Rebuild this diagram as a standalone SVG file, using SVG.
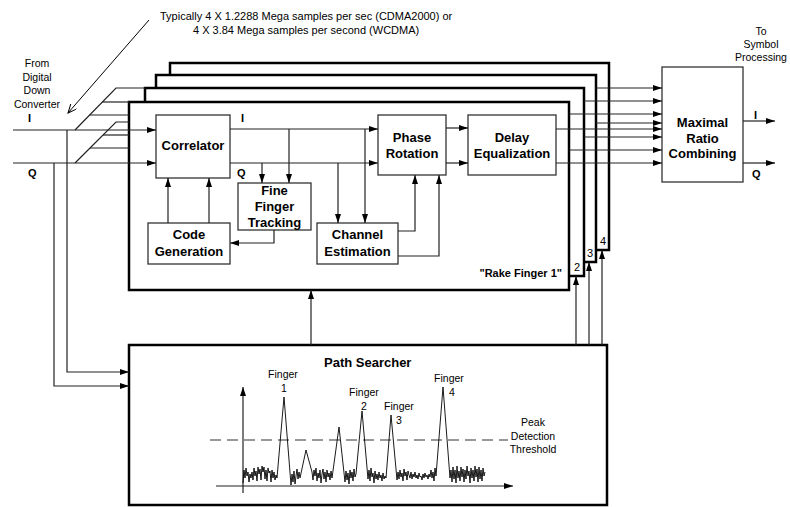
<svg xmlns="http://www.w3.org/2000/svg" width="790" height="507" viewBox="0 0 790 507">
<defs>
<marker id="ah" markerUnits="userSpaceOnUse" markerWidth="9" markerHeight="6" refX="9" refY="3" orient="auto">
<path d="M0,0 L9,3 L0,6 z" fill="#000"/>
</marker>
<marker id="vh" markerUnits="userSpaceOnUse" markerWidth="10" markerHeight="8" refX="9" refY="4" orient="auto">
<path d="M0,0 L9,4 L0,8" fill="none" stroke="#000" stroke-width="1"/>
</marker>
</defs>
<style>
.ln{stroke:#222;stroke-width:1.2;fill:none}
.la{stroke:#222;stroke-width:1.2;fill:none;marker-end:url(#ah)}
.blk{fill:#fff;stroke:#333;stroke-width:1.3}
.fing{fill:#fff;stroke:#000;stroke-width:2.5}
.t{font-family:"Liberation Sans",Arial,sans-serif;fill:#000}
.b13{font-size:13px;font-weight:bold;text-anchor:middle}
.b11{font-size:11px;font-weight:bold}
.r11s{font-size:11px}
.r105{font-size:10.5px;text-anchor:middle}
.r11{font-size:11px;text-anchor:middle}
</style>
<rect width="790" height="507" fill="#fff"/>

<g id="finger4"><rect class="fing" x="170" y="63" width="439" height="187"/><text class="t r11" x="603" y="245">4</text></g>
<g id="finger3"><rect class="fing" x="156" y="75" width="440" height="187"/><text class="t r11" x="590" y="257">3</text></g>
<g id="finger2"><rect class="fing" x="145" y="88" width="439" height="188"/><text class="t r11" x="577" y="271">2</text></g>
<g id="finger1"><rect class="fing" x="129" y="102" width="440" height="188"/><text class="t b11" x="562" y="277" text-anchor="end">"Rake Finger 1"</text></g>

<g id="correlator"><rect class="blk" x="156" y="115" width="74" height="63"/><text class="t b13" x="193" y="149.5">Correlator</text></g>
<g id="code-generation"><rect class="blk" x="148" y="223" width="82" height="41"/><text class="t b13" x="189" y="238.5">Code</text><text class="t b13" x="189" y="255.5">Generation</text></g>
<g id="fine-finger-tracking"><rect class="blk" x="238" y="183" width="73" height="47"/><text class="t b13" x="274.5" y="194.5">Fine</text><text class="t b13" x="274.5" y="211">Finger</text><text class="t b13" x="274.5" y="226.5">Tracking</text></g>
<g id="channel-estimation"><rect class="blk" x="317" y="223" width="81" height="41"/><text class="t b13" x="357.5" y="238.5">Channel</text><text class="t b13" x="357.5" y="255.5">Estimation</text></g>
<g id="phase-rotation"><rect class="blk" x="378" y="115" width="68" height="60"/><text class="t b13" x="412" y="141.5">Phase</text><text class="t b13" x="412" y="157.5">Rotation</text></g>
<g id="delay-equalization"><rect class="blk" x="468" y="115" width="88" height="60"/><text class="t b13" x="512" y="141.5">Delay</text><text class="t b13" x="512" y="157.5">Equalization</text></g>
<g id="mrc"><rect class="blk" x="662" y="67" width="81" height="115"/><text class="t b13" x="702.5" y="126.5">Maximal</text><text class="t b13" x="702.5" y="142.5">Ratio</text><text class="t b13" x="702.5" y="157.5">Combining</text></g>

<g id="path-searcher">
<rect class="fing" x="129" y="345" width="478" height="160"/>
<text class="t" x="324" y="367" font-size="13" font-weight="bold">Path Searcher</text>
<line x1="210" y1="440" x2="508" y2="440" stroke="#333" stroke-width="1.2" stroke-dasharray="11,6"/>
<path class="la" d="M243,493 V387"/>
<path class="la" d="M216,486 H513"/>
<polyline fill="none" stroke="#000" stroke-width="0.9" points="243,483 244,470 245,478 246,468 247,476 248,472 249,482 250,474 251,478 252,472 253,480 254,468 255,476 256,471 257,481 258,467 259,474 260,469 261,480 262,466 263,472 264,467 265,479 266,470 267,481 268,468 269,473 270,471 271,482 272,470 273,478 274,472 275,480 276,475 277,478 284,397 291,485 292,474 293,482 294,471 295,484 296,476 297,469 298,479 299,472 300,478 306,450 312,472 313,480 314,470 315,476 316,468 317,481 318,473 319,478 320,470 321,483 322,474 323,469 324,479 325,472 326,482 327,470 328,477 329,473 330,480 331,471 332,478 339,427 345,482 346,471 347,480 348,473 349,484 350,470 351,478 352,472 353,481 354,469 355,477 356,474 362,411 368,479 369,470 370,481 371,468 372,477 373,473 374,483 375,471 376,479 377,474 378,480 379,472 380,478 381,475 382,481 383,473 384,479 385,476 386,478 391,415 397,480 398,472 399,479 400,470 401,477 402,473 403,481 404,469 405,476 406,472 407,480 408,471 409,475 410,478 411,472 412,479 413,474 414,477 415,472 416,478 417,475 418,479 419,473 420,477 421,476 422,480 423,474 424,478 425,473 426,477 427,475 428,479 429,474 430,477 431,470 432,478 433,472 434,481 435,468 436,476 443,387 450,478 451,470 452,482 453,467 454,479 455,470 456,483 457,466 458,478 459,471 460,481 461,467 462,477 463,469 464,482 465,470 466,479 467,466 468,476 469,471 470,483 471,468 472,478 473,470 474,481 475,466 476,477 477,469 478,482 479,467 480,479 481,470 482,481 483,468 484,476 485,472"/>
<text class="t r105" x="283" y="378">Finger</text><text class="t r105" x="284" y="392">1</text>
<text class="t r105" x="364" y="396">Finger</text><text class="t r105" x="364" y="410">2</text>
<text class="t r105" x="399" y="410">Finger</text><text class="t r105" x="399" y="424">3</text>
<text class="t r105" x="449" y="382">Finger</text><text class="t r105" x="452" y="396">4</text>
<text class="t r105" x="533" y="426">Peak</text><text class="t r105" x="533" y="440">Detection</text><text class="t r105" x="533" y="453">Threshold</text>
</g>

<g id="connectors">
<path class="la" d="M13,130 H156"/>
<path class="la" d="M13,163 H156"/>
<path class="ln" d="M75,130 L116,88 H145"/>
<path class="ln" d="M102,102 H129"/>
<path class="ln" d="M89.5,115 H129"/>
<path class="ln" d="M75,163 L116,122 H129"/>
<path class="ln" d="M103,135 H129"/>
<path class="ln" d="M90,148 H129"/>
<path class="la" d="M67,130 V372 H129"/>
<path class="la" d="M54,163 V386 H129"/>
<path d="M149,20 L68,113" stroke="#000" stroke-width="1" fill="none" marker-end="url(#vh)"/>
<path class="la" d="M230,129 H378"/>
<path class="la" d="M230,163 H378"/>
<path class="la" d="M289,129 V183"/>
<path class="la" d="M262,163 V183"/>
<path class="la" d="M365,129 V223"/>
<path class="la" d="M338,163 V223"/>
<path class="la" d="M168,223 V178"/>
<path class="la" d="M209,223 V178"/>
<path class="la" d="M274,230 V243 H230"/>
<path class="la" d="M398,231 H415 V175"/>
<path class="la" d="M398,256 H439 V175"/>
<path class="la" d="M446,128 H468"/>
<path class="la" d="M446,163 H468"/>
<path class="la" d="M556,129 H662"/>
<path class="la" d="M556,163 H662"/>
<path class="la" d="M569,114 H662"/>
<path class="la" d="M569,150 H662"/>
<path class="la" d="M584,101 H662"/>
<path class="la" d="M584,137 H662"/>
<path class="la" d="M596,88 H662"/>
<path class="la" d="M596,123 H662"/>
<path class="la" d="M743,121 H775"/>
<path class="la" d="M743,163 H775"/>
<path class="la" d="M311,345 V290"/>
<path class="la" d="M576,345 V276"/>
<path class="la" d="M589,345 V262"/>
<path class="la" d="M602,345 V250"/>
</g>

<g id="labels">
<text class="t r11s" x="160" y="20">Typically 4 X 1.2288 Mega samples per sec (CDMA2000) or</text>
<text class="t r11s" x="193" y="34">4 X 3.84 Mega samples per second (WCDMA)</text>
<text class="t r105" x="37" y="67">From</text>
<text class="t r105" x="37" y="81">Digital</text>
<text class="t r105" x="37" y="94">Down</text>
<text class="t r105" x="37" y="108">Converter</text>
<text class="t b11" x="28" y="122">I</text>
<text class="t b11" x="28" y="177">Q</text>
<text class="t b11" x="241" y="122">I</text>
<text class="t b11" x="237" y="177">Q</text>
<text class="t r105" x="761" y="35">To</text>
<text class="t r105" x="761" y="48">Symbol</text>
<text class="t r105" x="761" y="61">Processing</text>
<text class="t b11" x="754" y="119">I</text>
<text class="t b11" x="752" y="178">Q</text>
</g>
</svg>
